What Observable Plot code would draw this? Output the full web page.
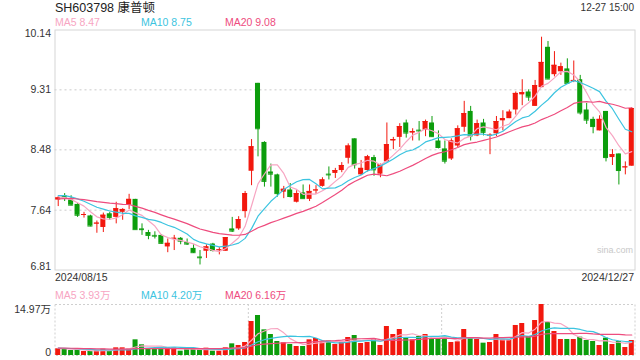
<!DOCTYPE html>
<html><head><meta charset="utf-8">
<script src="https://cdn.jsdelivr.net/npm/d3@7"></script>
<script src="https://cdn.jsdelivr.net/npm/@observablehq/plot@0.6"></script>
<style>
body{margin:0;background:#fff;}
#wrap{position:relative;width:640px;height:360px;font-family:"Liberation Sans",Arial,"Noto Sans CJK SC",sans-serif;color:#333;overflow:hidden;background:#fff}
.t{position:absolute;white-space:nowrap;line-height:12px;font-size:10.5px}
#wrap svg{position:absolute;left:0}
</style></head><body><div id="wrap"></div>
<script>
// ---- data ----
const title = "SH603798 康普顿";
const timeLabel = "12-27 15:00";
const startDate = "2024/08/15";
const endDate = "2024/12/27";
const maLabels = ["MA5 8.47", "MA10 8.75", "MA20 9.08"];
const volMaLabels = ["MA5 3.93万", "MA10 4.20万", "MA20 6.16万"];
const yTicks = [10.14, 9.31, 8.48, 7.64, 6.81];
const volTicks = [14.97, 0];
const volUnit = "万";

const open = [7.78,7.84,7.78,7.72,7.57,7.56,7.45,7.40,7.59,7.54,
7.61,7.71,7.79,7.38,7.33,7.29,7.29,7.13,7.24,7.25,
7.19,7.11,6.99,7.07,7.17,7.08,7.07,7.38,7.38,7.62,
8.18,9.40,8.58,8.17,8.13,7.89,7.92,7.75,7.88,7.79,
7.91,7.97,8.14,8.15,8.19,8.36,8.63,8.13,8.19,8.37,
8.14,8.31,8.60,8.65,8.85,8.71,8.75,8.75,8.85,8.60,
8.49,8.35,8.53,8.79,9.01,8.67,8.85,8.67,8.70,8.88,
8.91,9.03,9.24,9.28,9.08,9.34,9.90,9.52,9.56,9.60,
9.43,9.45,9.03,8.90,8.74,9.01,8.37,8.42,8.23,8.25];
const high = [7.83,7.87,7.84,7.73,7.61,7.57,7.49,7.60,7.61,7.75,
7.66,7.86,7.79,7.45,7.36,7.34,7.30,7.24,7.29,7.26,
7.24,7.16,7.08,7.16,7.18,7.12,7.26,7.54,7.55,7.90,
8.62,9.40,8.59,8.28,8.14,7.97,8.01,7.91,7.99,7.99,
7.98,8.09,8.24,8.22,8.30,8.56,8.63,8.33,8.40,8.40,
8.28,8.85,8.65,8.84,8.89,8.77,8.87,8.89,8.94,8.74,
8.60,8.63,8.81,9.15,9.08,8.89,8.90,8.70,8.94,9.02,
9.03,9.28,9.45,9.31,9.44,10.04,9.98,9.84,9.68,9.74,
9.71,9.51,9.12,8.93,8.95,9.01,8.48,8.42,8.31,9.06];
const low = [7.69,7.76,7.70,7.54,7.53,7.41,7.32,7.33,7.50,7.45,
7.50,7.65,7.37,7.29,7.23,7.24,7.17,7.05,7.08,7.16,
7.15,7.04,6.88,6.97,7.06,7.02,7.07,7.33,7.36,7.53,
7.98,8.38,7.96,7.96,7.82,7.80,7.81,7.74,7.80,7.76,
7.86,7.96,8.06,8.08,8.16,8.28,8.21,8.12,8.17,8.11,
8.09,8.31,8.48,8.51,8.64,8.60,8.60,8.66,8.65,8.49,
8.28,8.33,8.51,8.72,8.60,8.66,8.67,8.41,8.66,8.74,
8.91,8.96,9.09,9.15,9.08,9.34,9.45,9.49,9.51,9.39,
9.41,8.96,8.83,8.70,8.74,8.31,8.26,7.99,8.13,8.25];
const close = [7.81,7.81,7.71,7.57,7.58,7.42,7.46,7.57,7.54,7.66,
7.65,7.79,7.37,7.37,7.29,7.28,7.18,7.18,7.25,7.21,
7.17,7.05,6.98,7.13,7.08,7.09,7.26,7.35,7.51,7.87,
8.52,8.77,8.04,8.14,7.87,7.93,7.83,7.87,7.80,7.90,
7.92,8.06,8.13,8.19,8.26,8.53,8.27,8.22,8.38,8.20,
8.27,8.55,8.62,8.80,8.71,8.73,8.74,8.87,8.66,8.51,
8.32,8.60,8.77,8.98,8.67,8.84,8.72,8.68,8.87,8.91,
9.00,9.26,9.27,9.21,9.37,9.69,9.46,9.65,9.63,9.40,
9.44,8.99,8.89,8.80,8.90,8.37,8.41,8.19,8.24,9.05];
// volume in 万
const volume = [1.97,1.76,1.47,1.67,1.17,1.17,1.37,1.86,1.47,2.25,
2.25,1.86,4.60,3.13,2.05,2.05,2.15,2.35,2.25,1.27,
1.67,1.96,1.67,2.15,1.27,1.27,2.25,3.42,2.94,3.82,
9.98,11.74,7.53,6.16,4.11,3.72,3.23,2.64,2.64,4.60,
4.99,3.91,4.21,3.23,4.11,5.28,5.87,3.52,3.82,4.89,
2.94,8.51,6.16,7.63,4.99,4.60,5.58,6.16,4.70,4.70,
5.38,3.82,4.01,7.63,5.18,4.70,3.62,3.82,6.16,4.60,
4.60,8.81,9.39,5.58,10.27,14.97,9.69,7.04,4.70,4.70,
4.70,5.38,4.40,4.11,2.94,5.09,3.23,4.11,2.35,4.40];
// sessions before 2024/08/15 (not drawn; only feed the moving averages)
const priorCloses = [7.70,7.68,7.72,7.75,7.71,7.74,7.78,7.76,7.80,7.85,7.82,7.88,7.86,7.90,7.84,7.87,7.83,7.80,7.82];
const priorVolumes = [2.4,2.1,2.6,2.3,1.9,2.2,2.5,2.0,2.3,2.1,2.4,1.8,2.2,2.6,2.0,2.3,1.9,2.1,2.2];

// ---- styles ----
const RED = "#f2180e", GREEN = "#0c9d0c";
const C5 = "#f7a5c2", C10 = "#3cc4e0", C20 = "#ee4c7e";
const FONT = '"Liberation Sans", Arial, "Noto Sans CJK SC", sans-serif';

const idx = d3.range(open.length);
const candles = idx.map(i => ({i, o: open[i], h: high[i], l: low[i], c: close[i], v: volume[i],
  col: close[i] >= open[i] ? RED : GREEN}));

function movingAvg(prior, vals, n) {
  const all = prior.concat(vals), off = prior.length;
  return vals.map((_, i) => ({i, v: d3.mean(all.slice(off + i - n + 1, off + i + 1))}));
}
const pMA = [5, 10, 20].map(n => movingAvg(priorCloses, close, n));
const vMA = [5, 10, 20].map(n => movingAvg(priorVolumes, volume, n));
const maCols = [C5, C10, C20];

const L = 54.5, R = 634.5, PI = 0.22, PO = 0.11;
const xOpt = {type: "band", domain: idx, range: [L, R], paddingInner: PI, paddingOuter: PO, axis: null};
const step = (R - L) / (idx.length - PI + 2 * PO);

const wrap = document.getElementById("wrap");

const main = Plot.plot({
  width: 640, height: 270,
  marginLeft: L, marginRight: 640 - R, marginTop: 29.5, marginBottom: 0.5,
  x: xOpt,
  y: {domain: [yTicks[yTicks.length - 1], yTicks[0]], axis: null},
  color: {type: "identity"},
  style: {fontFamily: FONT, fontSize: "10.5px", color: "#333", background: "transparent", overflow: "visible"},
  marks: [
    Plot.ruleY(yTicks.slice(1, -1), {stroke: "#dcdcdc", strokeDasharray: "2,3", strokeWidth: 1.5}),
    Plot.frame({stroke: "#d6d6d6"}),
    Plot.ruleX(candles, {x: "i", y1: "l", y2: "h", stroke: "col", strokeWidth: 1}),
    Plot.barY(candles, {x: "i", y1: "o", y2: "c", fill: "col"}),
    Plot.tickY(candles, {x: "i", y: "c", stroke: "col", strokeWidth: 1}),
    ...pMA.map((d, k) => Plot.lineY(d, {x: "i", y: "v", stroke: maCols[k], strokeWidth: 1.2})),
    Plot.text(yTicks.slice(1, -1), {y: d => d, text: d => d.toFixed(2), frameAnchor: "left", dx: -4, textAnchor: "end", fill: "#333"}),
    Plot.text([yTicks[0]], {y: d => d, text: d => d.toFixed(2), frameAnchor: "left", dx: -4, textAnchor: "end", lineAnchor: "top", dy: 0, fill: "#333"}),
    Plot.text([yTicks[yTicks.length - 1]], {y: d => d, text: d => d.toFixed(2), frameAnchor: "left", dx: -4, textAnchor: "end", lineAnchor: "bottom", fill: "#333"})
  ]
});
main.style.top = "0px";
wrap.appendChild(main);

const vol = Plot.plot({
  width: 640, height: 80,
  marginLeft: L, marginRight: 640 - R, marginTop: 24, marginBottom: 5,
  x: xOpt,
  y: {domain: [volTicks[1], volTicks[0]], axis: null},
  color: {type: "identity"},
  style: {fontFamily: FONT, fontSize: "10.5px", color: "#333", background: "transparent", overflow: "visible"},
  marks: [
    Plot.frame({stroke: "#cfcfcf", strokeDasharray: "2,2"}),
    Plot.ruleX([idx.length / 3, 2 * idx.length / 3], {x: d => d, dx: -step / 2, stroke: "#cfcfcf", strokeDasharray: "2,2"}),
    Plot.barY(candles, {x: "i", y: "v", fill: "col"}),
    ...vMA.map((d, k) => Plot.lineY(d, {x: "i", y: "v", stroke: maCols[k], strokeWidth: 1.2})),
    Plot.text([volTicks[0]], {y: d => d, text: d => d.toFixed(2) + volUnit, frameAnchor: "left", dx: -4, textAnchor: "end", lineAnchor: "top", dy: 1, fill: "#333"}),
    Plot.text([volTicks[1]], {y: d => d, text: d => String(d), frameAnchor: "left", dx: -4, textAnchor: "end", lineAnchor: "bottom", fill: "#333"})
  ]
});
vol.style.top = "280px";
wrap.appendChild(vol);

function addText(txt, css) {
  const d = document.createElement("div");
  d.className = "t";
  d.textContent = txt;
  Object.assign(d.style, css);
  wrap.appendChild(d);
}
addText(title, {left: "55px", top: "1px", fontSize: "12.5px", lineHeight: "14px", color: "#222"});
addText(timeLabel, {right: "6px", top: "2px", fontSize: "10px", color: "#333"});
const maX = [55, 141, 225];
maLabels.forEach((t, k) => addText(t, {left: maX[k] + "px", top: "16px", color: maCols[k]}));
volMaLabels.forEach((t, k) => addText(t, {left: maX[k] + "px", top: "289px", color: maCols[k]}));
addText(startDate, {left: "55px", top: "271px", color: "#333"});
addText(endDate, {right: "6px", top: "271px", color: "#333"});
addText("sina.com", {left: "597px", top: "244px", fontSize: "9px", color: "#c8c8c8"});
</script></body></html>
